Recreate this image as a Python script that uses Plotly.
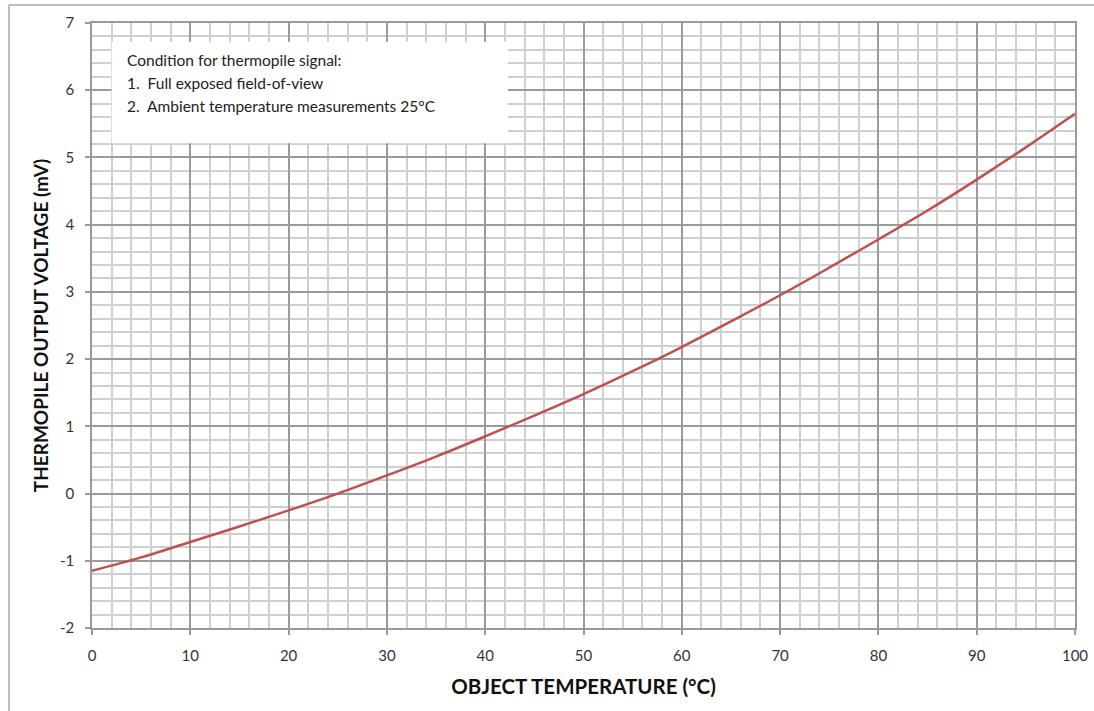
import plotly.graph_objects as go

temps = [0, 5, 10, 15, 20, 25, 30, 35, 40, 45, 50, 55, 60, 65, 70, 75, 80, 85, 90, 95, 100]
voltage = [-1.15, -0.95, -0.72, -0.49, -0.25, 0.0, 0.27, 0.55, 0.85, 1.16, 1.48,
           1.82, 2.18, 2.56, 2.95, 3.36, 3.78, 4.21, 4.67, 5.15, 5.65]

x_ticks = [0, 10, 20, 30, 40, 50, 60, 70, 80, 90, 100]
y_ticks = [-2, -1, 0, 1, 2, 3, 4, 5, 6, 7]
y_tick_text = ["-2", "-1", "0", "1", "2", "3", "4", "5", "6", "7"]

note_lines = ["Condition for thermopile signal:",
              "1.  Full exposed field-of-view",
              "2.  Ambient temperature measurements 25°C"]

FONT = "Lato, 'Open Sans', sans-serif"
MAJOR = "#9a9a9a"
MINOR = "#cfcfcf"

fig = go.Figure()
fig.add_trace(go.Scatter(x=temps, y=voltage, mode="lines",
                         line=dict(color="#c0504d", width=2.5, shape="spline"),
                         showlegend=False))

axis_common = dict(showgrid=True, gridcolor=MAJOR, gridwidth=1.5,
                   showline=True, linecolor=MAJOR, linewidth=1.5, mirror=True,
                   ticks="outside", ticklen=5, tickcolor=MAJOR, tickwidth=1.5,
                   zeroline=False, automargin=False, ticklabeloverflow="allow",
                   tickfont=dict(family=FONT, size=15, color="#333333"))

fig.update_xaxes(range=[0, 100], tickvals=x_ticks,
                 minor=dict(dtick=2, tick0=0, showgrid=True, gridcolor=MINOR, gridwidth=1.5, ticks=""),
                 ticklabelstandoff=8,
                 title=dict(text="<b>OBJECT TEMPERATURE (°C)</b>",
                            font=dict(family=FONT, size=20.5, color="#111111"), standoff=17),
                 **axis_common)
fig.update_yaxes(range=[-2, 7], tickvals=y_ticks, ticktext=y_tick_text,
                 minor=dict(dtick=0.2, tick0=0, showgrid=True, gridcolor=MINOR, gridwidth=1.5, ticks=""),
                 ticklabelstandoff=8,
                 title=dict(text="<b>THERMOPILE OUTPUT VOLTAGE (mV)</b>",
                            font=dict(family=FONT, size=19, color="#111111"), standoff=6),
                 **axis_common)

# note box
fig.add_shape(type="rect", xref="x", yref="y", x0=2.0, x1=42.3, y0=5.21, y1=6.72,
              fillcolor="white", line=dict(width=0), layer="between")
note_y = [6.45, 6.107, 5.765]
for t, yy in zip(note_lines, note_y):
    fig.add_annotation(x=3.36, y=yy, xref="x", yref="y", text=t,
                       showarrow=False, xanchor="left", yanchor="middle",
                       font=dict(family=FONT, size=15.5, color="#222222"))

# outer chart border (top and left edges visible)
fig.add_shape(type="line", xref="paper", yref="paper", x0=-0.0844, x1=1.1, y0=1.0298, y1=1.0298,
              line=dict(color="#a8a8a8", width=1.5))
fig.add_shape(type="line", xref="paper", yref="paper", x0=-0.0844, x1=-0.0844, y0=-0.2, y1=1.0298,
              line=dict(color="#a8a8a8", width=1.5))

fig.update_layout(width=1094, height=711,
                  margin=dict(l=92, r=19, t=23, b=83),
                  plot_bgcolor="white", paper_bgcolor="white",
                  font=dict(family=FONT))

fig.write_html("out.html", config={"displayModeBar": False},
               post_script="document.body.style.margin='0px';document.body.style.overflow='hidden';")
